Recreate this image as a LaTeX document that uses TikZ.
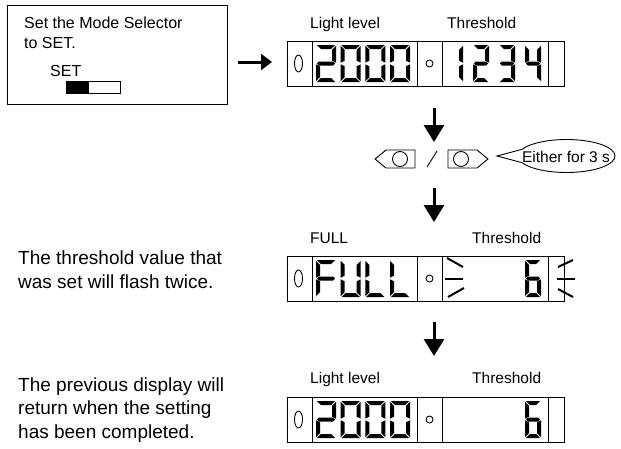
\documentclass[tikz,border=0pt]{standalone}
\usepackage{fontspec}
\setmainfont{Liberation Sans}
\usetikzlibrary{arrows.meta, positioning}

% seven segment digit, origin at top left, y runs down
\newcommand{\dgh}{37}
\newcommand{\dgt}{4}
\newcommand{\sega}{\fill (0.8,0) -- (\dgw-0.8,0) -- (\dgw-0.8-\dgt,\dgt) -- (0.8+\dgt,\dgt) -- cycle;}
\newcommand{\segd}{\fill (0.8,\dgh) -- (\dgw-0.8,\dgh) -- (\dgw-0.8-\dgt,\dgh-\dgt) -- (0.8+\dgt,\dgh-\dgt) -- cycle;}
\newcommand{\segf}{\fill (0,0.8) -- (\dgt,0.8+\dgt) -- (\dgt,\dgh/2-\dgt/2-0.8) -- (0,\dgh/2-0.8) -- cycle;}
\newcommand{\sege}{\fill (0,\dgh/2+0.8) -- (\dgt,\dgh/2+\dgt/2+0.8) -- (\dgt,\dgh-\dgt-0.8) -- (0,\dgh-0.8) -- cycle;}
\newcommand{\segb}{\fill (\dgw,0.8) -- (\dgw-\dgt,0.8+\dgt) -- (\dgw-\dgt,\dgh/2-\dgt/2-0.8) -- (\dgw,\dgh/2-0.8) -- cycle;}
\newcommand{\segc}{\fill (\dgw,\dgh/2+0.8) -- (\dgw-\dgt,\dgh/2+\dgt/2+0.8) -- (\dgw-\dgt,\dgh-\dgt-0.8) -- (\dgw,\dgh-0.8) -- cycle;}
\newcommand{\segg}{\fill (0.8,\dgh/2) -- (0.8+\dgt/2,\dgh/2-\dgt/2) -- (\dgw-0.8-\dgt/2,\dgh/2-\dgt/2) -- (\dgw-0.8,\dgh/2) -- (\dgw-0.8-\dgt/2,\dgh/2+\dgt/2) -- (0.8+\dgt/2,\dgh/2+\dgt/2) -- cycle;}
\newcommand{\lcddigit}[4]{%
  \begin{scope}[shift={(#1,#2)}]
    \def\dgw{#3}
    \foreach \s in {#4} {\csname seg\s\endcsname}
  \end{scope}}

\begin{document}
\begin{tikzpicture}[
    x=1pt, y=-1pt,
    frame/.style={draw, line width=1pt, inner sep=0pt},
    lcd/.style={draw, line width=0.9pt, minimum width=277pt, minimum height=45pt, inner sep=0pt},
    lbl/.style={font=\fontsize{15.5}{18}\selectfont, inner sep=0pt, anchor=base west},
    note/.style={font=\fontsize{19}{23.5}\selectfont, inner sep=0pt, anchor=base west, align=left},
    flow/.style={-{Triangle[length=17pt, width=20pt]}, line width=3pt},
    thin line/.style={line width=0.9pt},
    flash/.style={line width=2pt}
]
    \useasboundingbox (0,0) rectangle (621,448);

    % Step 1: mode selector box (base = last line)
    \node[frame, minimum width=220pt, minimum height=99pt] (mode) at (117,54.5) {};
    \node[font=\fontsize{16}{20}\selectfont, inner sep=0pt, anchor=base west, align=left] (modetxt) at (24,48) {Set the Mode Selector\\to SET.};
    \node[font=\fontsize{16}{20}\selectfont, inner sep=0pt, anchor=base west] (setlbl) at (50,76) {SET};
    \draw[thin line] (66,81) rectangle (120,93);
    \fill (66,81) rectangle (89,93);

    \coordinate (r0) at (238,62);
    \coordinate (r1) at (272,62);
    \draw[-{Triangle[length=11pt, width=16pt]}, line width=3pt] (r0) -- (r1);

    % Display 1: light level and threshold
    \node[lbl] (ll1) at (310,28) {Light level};
    \node[lbl] (th1) at (447,28) {Threshold};
    \node[lcd] (disp1) at (425.5,63.5) {};
    \foreach \x in {312,417,442,548} \draw[thin line] (\x,41) -- (\x,86);
    \draw[thin line] (298.5,63.5) ellipse [x radius=4, y radius=8.5];
    \draw[thin line] (429.5,63.5) circle [radius=3.5];
    \lcddigit{316}{45}{20}{a,b,g,e,d}
    \lcddigit{340.7}{45}{20}{a,b,c,d,e,f}
    \lcddigit{365.3}{45}{20}{a,b,c,d,e,f}
    \lcddigit{390}{45}{20}{a,b,c,d,e,f}
    \lcddigit{447}{45}{16}{b,c}
    \lcddigit{473}{45}{16}{a,b,g,e,d}
    \lcddigit{499}{45}{16}{a,b,g,c,d}
    \lcddigit{525}{45}{16}{f,g,b,c}

    \coordinate (d0) at (434,108);
    \coordinate (d1) at (434,142);
    \draw[flow] (d0) -- (d1);

    % Buttons held for 3 s
    \draw[thin line] (375,159) -- (386,150) -- (415,150) -- (415,168) -- (386,168) -- cycle;
    \draw[thin line] (400,159) circle [radius=7.5];
    \draw[thin line] (427,167) -- (437,151);
    \draw[thin line] (448,150) -- (477,150) -- (488,159) -- (477,168) -- (448,168) -- cycle;
    \draw[thin line] (461,159) circle [radius=7.5];
    \node[font=\fontsize{15.5}{18}\selectfont, inner sep=0pt] (bub) at (566,157) {Either for 3 s};
    \coordinate (tip) at (497,156);
    \draw[thin line] ([shift={(156:48.5 and 16.5)}]566.5,156) arc[start angle=156, end angle=-156, x radius=48.5, y radius=16.5] -- (tip) -- cycle;

    \coordinate (d2) at (434,188);
    \coordinate (d3) at (434,222);
    \draw[flow] (d2) -- (d3);

    % Display 2: FULL, threshold flashes
    \node[note] (note1) at (18,288) {The threshold value that\\was set will flash twice.};
    \node[lbl] (ll2) at (310,243) {FULL};
    \node[lbl] (th2) at (472,243) {Threshold};
    \node[lcd] (disp2) at (425.5,278.5) {};
    \foreach \x in {312,417,442,548} \draw[thin line] (\x,256) -- (\x,301);
    \draw[thin line] (298.5,278.5) ellipse [x radius=4, y radius=8.5];
    \draw[thin line] (429.5,278.5) circle [radius=3.5];
    \lcddigit{316}{260}{20}{a,f,g,e}
    \lcddigit{340.7}{260}{20}{f,e,d,c,b}
    \lcddigit{365.3}{260}{20}{f,e,d}
    \lcddigit{390}{260}{20}{f,e,d}
    \lcddigit{525}{260}{16}{a,f,g,e,d,c}
    \draw[flash] (447,258) -- (463,267);
    \draw[flash] (445,278.5) -- (463,278.5);
    \draw[flash] (448,297) -- (464,288);
    \draw[flash] (558,267) -- (573,260);
    \draw[flash] (557,278.5) -- (575,278.5);
    \draw[flash] (558,289) -- (573,297);

    \coordinate (d4) at (434,322);
    \coordinate (d5) at (434,356);
    \draw[flow] (d4) -- (d5);

    % Display 3: back to normal
    \node[note] (note2) at (18,438) {The previous display will\\return when the setting\\has been completed.};
    \node[lbl] (ll3) at (310,383) {Light level};
    \node[lbl] (th3) at (472,383) {Threshold};
    \node[lcd] (disp3) at (425.5,419.5) {};
    \foreach \x in {312,417,442,548} \draw[thin line] (\x,397) -- (\x,442);
    \draw[thin line] (298.5,419.5) ellipse [x radius=4, y radius=8.5];
    \draw[thin line] (429.5,419.5) circle [radius=3.5];
    \lcddigit{316}{401}{20}{a,b,g,e,d}
    \lcddigit{340.7}{401}{20}{a,b,c,d,e,f}
    \lcddigit{365.3}{401}{20}{a,b,c,d,e,f}
    \lcddigit{390}{401}{20}{a,b,c,d,e,f}
    \lcddigit{525}{401}{16}{a,f,g,e,d,c}
\end{tikzpicture}
\end{document}
